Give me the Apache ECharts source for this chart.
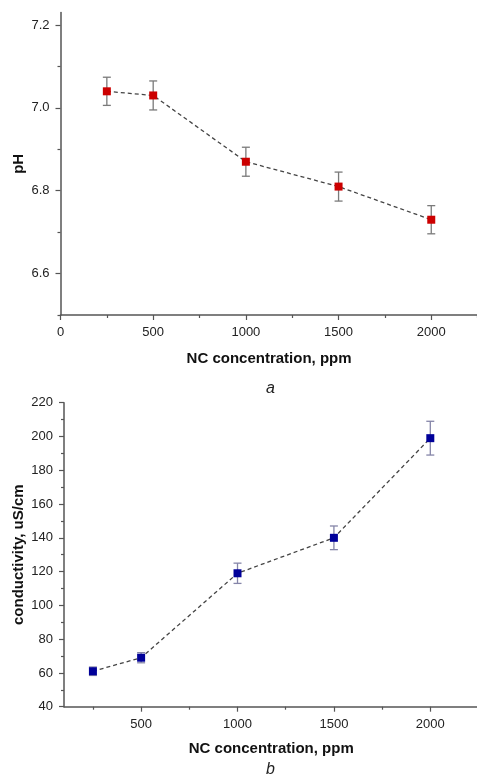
<!DOCTYPE html>
<html>
<head>
<meta charset="utf-8">
<script src="https://cdn.jsdelivr.net/npm/echarts@6/dist/echarts.min.js"></script>
<style>
  html, body { margin: 0; padding: 0; background: #fff; }
  #chart { width: 477px; height: 778px; }
</style>
</head>
<body>
<div id="chart"></div>
<script>
// panel a: pH vs NC concentration
const concA = [250, 500, 1000, 1500, 2000]
const phVals = [7.04, 7.03, 6.87, 6.81, 6.73]
const phErr = [0.034, 0.035, 0.035, 0.035, 0.034]
const xTicksA = [0, 500, 1000, 1500, 2000]
const xMinorA = [250, 750, 1250, 1750, 2250]
const yTicksA = [6.6, 6.8, 7.0, 7.2]
const yMinorA = [6.5, 6.7, 6.9, 7.1]

// panel b: conductivity vs NC concentration
const concB = [250, 500, 1000, 1500, 2000]
const condVals = [61, 69, 119, 140, 199]
const condErr = [2.5, 3, 6, 7, 10]
const xTicksB = [500, 1000, 1500, 2000]
const xMinorB = [250, 750, 1250, 1750, 2250]
const yMinorB = [50, 70, 90, 110, 130, 150, 170, 190, 210]

const font = 'Liberation Sans, Arial, sans-serif'
const axisColor = '#555'
const labelColor = '#222'

function errBar(color) {
  return function (params, api) {
    const x = api.value(0)
    const v = api.value(1)
    const e = api.value(2)
    const top = api.coord([x, v + e])
    const bot = api.coord([x, v - e])
    const w = 4
    const st = { stroke: color, lineWidth: 1.3 }
    return {
      type: 'group',
      children: [
        { type: 'line', shape: { x1: top[0], y1: top[1], x2: bot[0], y2: bot[1] }, style: st },
        { type: 'line', shape: { x1: top[0] - w, y1: top[1], x2: top[0] + w, y2: top[1] }, style: st },
        { type: 'line', shape: { x1: bot[0] - w, y1: bot[1], x2: bot[0] + w, y2: bot[1] }, style: st }
      ]
    }
  }
}

function mainAxis(opts) {
  return Object.assign({
    type: 'value',
    splitLine: { show: false },
    axisLine: { show: true, onZero: false, lineStyle: { color: axisColor, width: 1.5 } },
    axisTick: { show: true, length: 5, lineStyle: { color: axisColor, width: 1.2 } },
    axisLabel: { color: labelColor, fontSize: 13, fontFamily: font },
    nameTextStyle: { color: '#111', fontSize: 15, fontWeight: 'bold', fontFamily: font },
    nameLocation: 'middle',
    nameMoveOverlap: false
  }, opts)
}

function minorAxis(opts, vals) {
  return Object.assign({
    type: 'value',
    splitLine: { show: false },
    axisLine: { show: false, onZero: false },
    axisLabel: { show: false },
    axisTick: { show: true, length: 3, customValues: vals, lineStyle: { color: axisColor, width: 1.2 } }
  }, opts)
}

const plain = v => String(Math.round(v))

const chart = echarts.init(document.getElementById('chart'))
chart.setOption({
  animation: false,
  grid: [
    { left: 60.5, top: 12.6, width: 417.1, height: 302.4, outerBoundsMode: 'none' },
    { left: 64, top: 402.7, width: 414.5, height: 304, outerBoundsMode: 'none' }
  ],
  xAxis: [
    mainAxis({
      gridIndex: 0, min: 0, max: 2250, position: 'bottom',
      axisTick: { show: true, length: 5, customValues: xTicksA, lineStyle: { color: axisColor, width: 1.2 } },
      axisLabel: { customValues: xTicksA, color: labelColor, fontSize: 13, fontFamily: font, margin: 11, formatter: plain },
      name: 'NC concentration, ppm', nameGap: 36
    }),
    minorAxis({ gridIndex: 0, min: 0, max: 2250, position: 'bottom' }, xMinorA),
    mainAxis({
      gridIndex: 1, min: 100, max: 2250, position: 'bottom',
      axisTick: { show: true, length: 5, customValues: xTicksB, lineStyle: { color: axisColor, width: 1.2 } },
      axisLabel: { customValues: xTicksB, color: labelColor, fontSize: 13, fontFamily: font, margin: 11, formatter: plain },
      name: 'NC concentration, ppm', nameGap: 35
    }),
    minorAxis({ gridIndex: 1, min: 100, max: 2250, position: 'bottom' }, xMinorB)
  ],
  yAxis: [
    mainAxis({
      gridIndex: 0, min: 6.5, max: 7.23, position: 'left',
      axisTick: { show: true, length: 5, customValues: yTicksA, lineStyle: { color: axisColor, width: 1.2 } },
      axisLabel: {
        customValues: yTicksA, color: labelColor, fontSize: 13, fontFamily: font, margin: 11,
        formatter: v => v.toFixed(1)
      },
      name: 'pH', nameGap: 34
    }),
    minorAxis({ gridIndex: 0, min: 6.5, max: 7.23, position: 'left' }, yMinorA),
    mainAxis({
      gridIndex: 1, min: 40, max: 220, interval: 20, position: 'left',
      axisLabel: { color: labelColor, fontSize: 13, fontFamily: font, margin: 11 },
      name: 'conductivity, uS/cm', nameGap: 37.5
    }),
    minorAxis({ gridIndex: 1, min: 40, max: 220, position: 'left' }, yMinorB)
  ],
  graphic: [
    { type: 'text', left: 266, top: 381, style: { text: 'a', font: 'italic 16px ' + font, fill: '#222' } },
    { type: 'text', left: 266, top: 762, style: { text: 'b', font: 'italic 16px ' + font, fill: '#222' } }
  ],
  series: [
    {
      type: 'custom', xAxisIndex: 0, yAxisIndex: 0, z: 2,
      renderItem: errBar('#7a7a7a'),
      data: concA.map((c, i) => [c, phVals[i], phErr[i]])
    },
    {
      type: 'line', xAxisIndex: 0, yAxisIndex: 0, z: 3,
      data: concA.map((c, i) => [c, phVals[i]]),
      symbol: 'rect', symbolSize: 8,
      itemStyle: { color: '#cc0000' },
      lineStyle: { color: '#444', width: 1.3, type: [4, 3] }
    },
    {
      type: 'custom', xAxisIndex: 2, yAxisIndex: 2, z: 2,
      renderItem: errBar('#8585a8'),
      data: concB.map((c, i) => [c, condVals[i], condErr[i]])
    },
    {
      type: 'line', xAxisIndex: 2, yAxisIndex: 2, z: 3,
      data: concB.map((c, i) => [c, condVals[i]]),
      symbol: 'rect', symbolSize: 8,
      itemStyle: { color: '#000099' },
      lineStyle: { color: '#444', width: 1.3, type: [4, 3] }
    }
  ]
})
</script>
</body>
</html>
